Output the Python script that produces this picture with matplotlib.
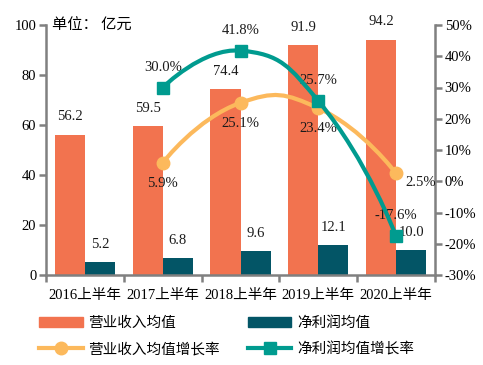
import matplotlib
matplotlib.use("Agg")
import matplotlib.pyplot as plt
import numpy as np
from matplotlib.path import Path
from matplotlib.patches import PathPatch, Patch
from matplotlib.lines import Line2D

#Data
#--------------------------------------------------------
years = ["2016上半年", "2017上半年", "2018上半年", "2019上半年", "2020上半年"]
revenue = [56.2, 59.5, 74.4, 91.9, 94.2]
profit = [5.2, 6.8, 9.6, 12.1, 10.0]
rev_growth = [5.9, 25.1, 23.4, 2.5]      # 2017-2020
profit_growth = [30.0, 41.8, 25.7, -17.6]

#Style
#--------------------------------------------------------
plt.rcParams['font.family'] = ['Liberation Serif', 'Noto Sans CJK SC']
plt.rcParams['font.size'] = 10.5
c_rev = '#F2734F'
c_pro = '#035566'
c_rg = '#FCB95C'
c_pg = '#009B8F'
c_ax = '#808080'
c_txt = '#1a1a1a'

fig = plt.figure(figsize=(4.83, 3.65), dpi=100)
ax = fig.add_axes([46/483, 1-275/365, (435-46)/483, 250/365])
ax2 = ax.twinx()

x = np.arange(len(years))
bw = 0.386
ax.bar(x - bw/2, revenue, bw, color=c_rev, zorder=2)
ax.bar(x + bw/2, profit, bw, color=c_pro, zorder=2)
for i in range(len(years)):
    ax.annotate("%.1f" % revenue[i], (x[i] - bw/2, revenue[i]), xytext=(0, 8),
                textcoords='offset points', ha='center', va='bottom', color=c_txt)
    ax.annotate("%.1f" % profit[i], (x[i] + bw/2, profit[i]), xytext=(0, 8),
                textcoords='offset points', ha='center', va='bottom', color=c_txt)

ax.set_xlim(-0.5, len(years) - 0.5)
ax.set_ylim(0, 100)
ax.set_yticks(range(0, 101, 20))
ax2.set_ylim(-30, 50)
ax2.set_yticks(range(-30, 51, 10))
ax2.set_yticklabels(["%d%%" % v for v in range(-30, 51, 10)])

ax.set_xticks(x)
ax.set_xticklabels(years)
ax.set_xticks(np.arange(-0.5, len(years)), minor=True)
ax.tick_params(axis='x', which='major', length=0, pad=10, labelsize=10.5)
ax.tick_params(axis='x', which='minor', length=5, width=1.8, color=c_ax, direction='out')
ax.tick_params(axis='y', length=5, width=1.8, color=c_ax, pad=2, labelsize=10.5)
ax2.tick_params(axis='y', length=5, width=1.8, color=c_ax, pad=2, labelsize=10.5)

for a in (ax, ax2):
    for s in a.spines.values():
        s.set_visible(False)
ax.spines['left'].set_visible(True)
ax.spines['bottom'].set_visible(True)
ax2.spines['right'].set_visible(True)
for s in (ax.spines['left'], ax.spines['bottom'], ax2.spines['right']):
    s.set_color(c_ax)
    s.set_linewidth(1.8)

ax.text(0.016, 1.0, "单位： 亿元", transform=ax.transAxes, ha='left', va='center',
        fontsize=11, family=['Noto Sans CJK SC'])

#smooth line like echarts (smooth = 0.5), built in pixel space
def smoothLine(a, xs, ys, color, zorder):
    pts = a.transData.transform(np.column_stack([xs, ys]))
    n = len(pts)
    verts = [pts[0]]
    codes = [Path.MOVETO]
    cps = []
    for i in range(n):
        if i == 0 or i == n - 1:
            cps.append((pts[i], pts[i]))
            continue
        v = (pts[i+1] - pts[i-1]) * 0.5
        d0 = np.linalg.norm(pts[i] - pts[i-1])
        d1 = np.linalg.norm(pts[i] - pts[i+1])
        s = d0 + d1
        cps.append((pts[i] - v * d0 / s, pts[i] + v * d1 / s))
    for i in range(n - 1):
        verts += [cps[i][1], cps[i+1][0], pts[i+1]]
        codes += [Path.CURVE4] * 3
    inv = a.transData.inverted()
    path = Path(inv.transform(np.array(verts)), codes)
    a.add_patch(PathPatch(path, facecolor='none', edgecolor=color, lw=3,
                          transform=a.transData, zorder=zorder, capstyle='round'))

xg = x[1:]
smoothLine(ax2, xg, rev_growth, c_rg, 3)
ax2.plot(xg, rev_growth, 'o', color=c_rg, ms=9, zorder=4)
smoothLine(ax2, xg, profit_growth, c_pg, 5)
ax2.plot(xg, profit_growth, 's', color=c_pg, ms=9, zorder=6)

for i in range(len(xg)):
    if i == len(xg) - 1:
        ax2.annotate("%.1f%%" % rev_growth[i], (xg[i], rev_growth[i]), xytext=(7, -2),
                     textcoords='offset points', ha='left', va='top', color=c_txt)
    else:
        ax2.annotate("%.1f%%" % rev_growth[i], (xg[i], rev_growth[i]), xytext=(0, -10),
                     textcoords='offset points', ha='center', va='top', color=c_txt)
    ax2.annotate("%.1f%%" % profit_growth[i], (xg[i], profit_growth[i]), xytext=(0, 10),
                 textcoords='offset points', ha='center', va='bottom', color=c_txt)

#Legend
handles = [Patch(color=c_rev), Patch(color=c_pro),
           Line2D([], [], color=c_rg, lw=3, marker='o', ms=9),
           Line2D([], [], color=c_pg, lw=3, marker='s', ms=9)]
labels = ["营业收入均值", "净利润均值", "营业收入均值增长率", "净利润均值增长率"]
# order for column fill: col1 = rev, rev growth ; col2 = profit, profit growth
order = [0, 2, 1, 3]
fig.legend([handles[i] for i in order], [labels[i] for i in order], ncol=2,
           loc='lower left', bbox_to_anchor=(30/483, 0.0), frameon=False,
           prop={'family': ['Noto Sans CJK SC'], 'size': 10.5},
           handlelength=3.0, handleheight=0.7, handletextpad=0.4,
           columnspacing=1.9, labelspacing=0.8, borderaxespad=0.2)

fig.savefig("out.png", dpi=100)
